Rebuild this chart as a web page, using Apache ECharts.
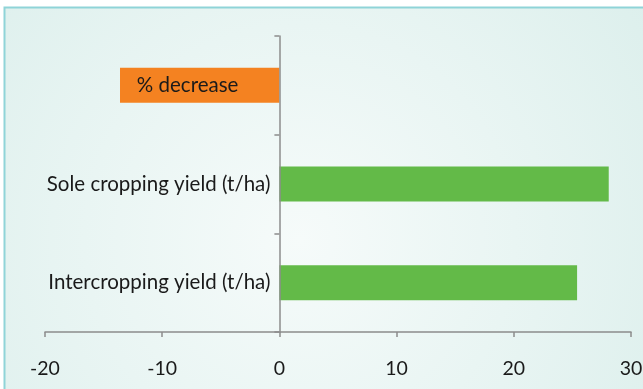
<!DOCTYPE html>
<html>
<head>
<meta charset="utf-8">
<script src="https://cdn.jsdelivr.net/npm/echarts@6/dist/echarts.min.js"></script>
<style>
  html, body { margin: 0; padding: 0; background: #ffffff; }
  #chart { width: 643px; height: 389px; }
</style>
</head>
<body>
<div id="chart"></div>
<script>
// Categories listed bottom to top on the vertical axis
const categories = ['Intercropping yield (t/ha)', 'Sole cropping yield (t/ha)', '% decrease'];
const values = [25.4, 28.1, -13.6];
const barColors = ['#63BA48', '#63BA48', '#F48221'];
const xTicks = { min: -20, max: 30, interval: 10 };

const chart = echarts.init(document.getElementById('chart'), null, { renderer: 'canvas' });

const font = 'Lato, "Open Sans", sans-serif';

// Plot area geometry; the category labels sit beside the zero line
const gridLeft = 45, gridWidth = 586;
const zeroOffset = gridWidth * (0 - xTicks.min) / (xTicks.max - xTicks.min);

chart.setOption({
  animation: false,
  graphic: [{
    type: 'rect',
    z: -10,
    silent: true,
    shape: { x: 4.5, y: 7.5, width: 700, height: 450 },
    style: {
      fill: {
        type: 'radial', x: 300, y: 240, r: 430, global: true,
        colorStops: [
          { offset: 0, color: '#F6FBFA' },
          { offset: 1, color: '#DCEFEC' }
        ]
      },
      stroke: '#8FD4D8',
      lineWidth: 2
    }
  }],
  grid: { left: gridLeft, top: 36, width: gridWidth, height: 296, containLabel: false, outerBoundsMode: 'none' },
  xAxis: {
    type: 'value',
    min: xTicks.min,
    max: xTicks.max,
    interval: xTicks.interval,
    axisLine: { show: true, lineStyle: { color: '#8C8C8C', width: 1.5 } },
    axisTick: { show: true, length: 5, lineStyle: { color: '#8C8C8C', width: 1.5 } },
    splitLine: { show: false },
    axisLabel: { color: '#1a1a1a', fontSize: 19.5, fontFamily: font, margin: 27 }
  },
  yAxis: {
    type: 'category',
    data: categories,
    z: 5,
    axisLine: { show: true, onZero: true, lineStyle: { color: '#8C8C8C', width: 1.5 } },
    axisTick: { show: true, length: 5, lineStyle: { color: '#8C8C8C', width: 1.5 } },
    axisLabel: {
      color: '#1a1a1a', fontSize: 20.5, fontFamily: font, margin: 9 - zeroOffset,
      formatter: function (v) {
        return v.charAt(0) === '%' ? '{pad|' + v + '}' : v;
      },
      rich: { pad: { padding: [0, 32, 0, 0], fontSize: 20.5, fontFamily: font, color: '#1a1a1a' } }
    }
  },
  series: [{
    type: 'bar',
    barWidth: 35,
    data: values.map((v, i) => ({ value: v, itemStyle: { color: barColors[i] } }))
  }]
});
</script>
</body>
</html>
